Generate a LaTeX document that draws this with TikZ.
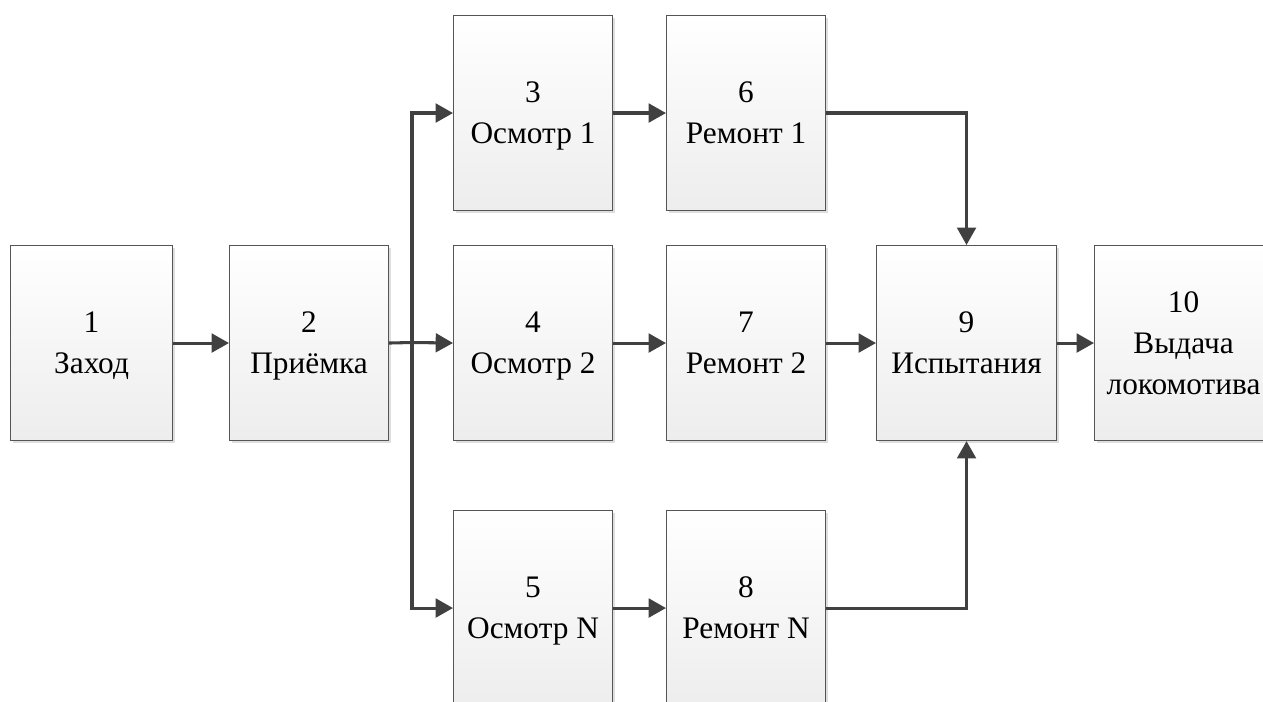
\documentclass[tikz,border=0pt]{standalone}
\usepackage{fontspec}
\setmainfont{Liberation Serif}
\newfontfamily\tnr{Liberation Serif}
\usetikzlibrary{arrows.meta,shadows}
\definecolor{arr}{HTML}{404040}
\definecolor{edge}{HTML}{555555}
\newcommand\mystrut{\rule[-7.9pt]{0pt}{30.75pt}}
\tikzset{
  blk/.style={draw=edge, line width=0.8pt, top color=white, bottom color=black!7,
    anchor=north west, inner sep=0pt, align=center,
    font=\tnr\fontsize{23.5}{30.75}\selectfont,
    drop shadow={shadow xshift=2pt, shadow yshift=-2pt, fill=black!13, opacity=1}},
  con/.style={draw=arr, line width=2.3pt, line join=miter,
    -{Triangle[length=13pt,width=14pt]}}
}
\begin{document}
\begin{tikzpicture}[x=0.75pt,y=-0.75pt]
\useasboundingbox (0,0) rectangle (1263,702);
\clip (0,0) rectangle (1263,702);
\node[blk, minimum width=162*0.75pt, minimum height=195*0.75pt] (b1) at (10,245) {\mystrut 1\\\mystrut Заход};
\node[blk, minimum width=159*0.75pt, minimum height=195*0.75pt] (b2) at (229,245) {\mystrut 2\\\mystrut Приёмка};
\node[blk, minimum width=159*0.75pt, minimum height=195*0.75pt] (b3) at (453,15) {\mystrut 3\\\mystrut Осмотр 1};
\node[blk, minimum width=159*0.75pt, minimum height=195*0.75pt] (b4) at (453,245) {\mystrut 4\\\mystrut Осмотр 2};
\node[blk, minimum width=159*0.75pt, minimum height=195*0.75pt] (b5) at (453,510) {\mystrut 5\\\mystrut Осмотр N};
\node[blk, minimum width=159*0.75pt, minimum height=195*0.75pt] (b6) at (666,15) {\mystrut 6\\\mystrut Ремонт 1};
\node[blk, minimum width=159*0.75pt, minimum height=195*0.75pt] (b7) at (666,245) {\mystrut 7\\\mystrut Ремонт 2};
\node[blk, minimum width=159*0.75pt, minimum height=195*0.75pt] (b8) at (666,510) {\mystrut 8\\\mystrut Ремонт N};
\node[blk, minimum width=180*0.75pt, minimum height=195*0.75pt] (b9) at (876,245) {\mystrut 9\\\mystrut Испытания};
\node[blk, minimum width=178*0.75pt, minimum height=195*0.75pt] (b10) at (1094,245) {\mystrut 10\\\mystrut Выдача\\\mystrut локомотива};
\coordinate (J) at (412,342.5);
\draw[con] (b1.east) -- (b2.west);
\draw[con] (b2.east) -- (J) -- (b4.west);
\draw[con] (J) |- (b3.west);
\draw[con] (J) |- (b5.west);
\draw[con] (b3.east) -- (b6.west);
\draw[con] (b4.east) -- (b7.west);
\draw[con] (b5.east) -- (b8.west);
\draw[con] (b6.east) -| (b9.north);
\draw[con] (b7.east) -- (b9.west);
\draw[con] (b8.east) -| (b9.south);
\draw[con] (b9.east) -- (b10.west);
\end{tikzpicture}
\end{document}
